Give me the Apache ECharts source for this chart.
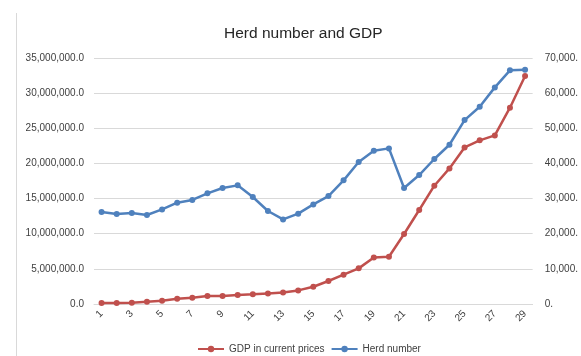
<!DOCTYPE html>
<html><head><meta charset="utf-8">
<script src="https://cdn.jsdelivr.net/npm/echarts@6/dist/echarts.min.js"></script>
<style>html,body{margin:0;padding:0;background:#fff}#c{width:581px;height:356px}</style>
</head><body><div id="c"></div>
<script>
var categories = ['1','2','3','4','5','6','7','8','9','10','11','12','13','14','15','16','17','18','19','20','21','22','23','24','25','26','27','28','29'];
var herdNumber = [13090000,12800000,12950000,12660000,13460000,14410000,14800000,15740000,16500000,16880000,15220000,13230000,12040000,12850000,14170000,15360000,17590000,20200000,21810000,22140000,16500000,18350000,20630000,22660000,26170000,28070000,30820000,33240000,33330000];
var gdp = [280,280,350,650,940,1500,1800,2280,2300,2560,2740,3020,3300,3870,4920,6540,8340,10140,13260,13460,19920,26740,33660,38580,44560,46560,47980,55860,64880];
var leftTicks = {min:0, max:35000000, interval:5000000};
var rightTicks = {min:0, max:70000, interval:10000};

function fmtLeft(v){ return v.toLocaleString('en-US',{minimumFractionDigits:1,maximumFractionDigits:1}); }
function fmtRight(v){ return v.toLocaleString('en-US') + '.'; }

var chart = echarts.init(document.getElementById('c'), null, {renderer:'canvas'});
var font = 'Liberation Sans';
chart.setOption({
  animation:false,
  backgroundColor:'#fff',
  title:{text:'Herd number and GDP', left:219, top:21, textStyle:{fontFamily:font, fontSize:15.5, fontWeight:'normal', color:'#262626'}},
  grid:{left:94, right:46, top:58, bottom:52, containLabel:false},
  legend:{top:339, left:192, itemWidth:26, itemHeight:8, itemGap:6,
    textStyle:{fontFamily:font, fontSize:10, color:'#404040'},
    data:['GDP in current prices','Herd number']},
  graphic:[{type:'line', shape:{x1:16.5,y1:13,x2:16.5,y2:356}, style:{stroke:'#d9d9d9', lineWidth:1}}],
  xAxis:{type:'category', data:categories, boundaryGap:true,
    axisLine:{lineStyle:{color:'#d9d9d9'}}, axisTick:{show:false},
    axisLabel:{interval:1, rotate:45, margin:8, fontFamily:font, fontSize:10, color:'#404040'}},
  yAxis:[
    {type:'value', min:leftTicks.min, max:leftTicks.max, interval:leftTicks.interval,
     axisLine:{show:false}, axisTick:{show:false},
     splitLine:{lineStyle:{color:'#d9d9d9'}},
     axisLabel:{formatter:fmtLeft, margin:10, fontFamily:font, fontSize:10, color:'#404040'}},
    {type:'value', min:rightTicks.min, max:rightTicks.max, interval:rightTicks.interval,
     axisLine:{show:false}, axisTick:{show:false}, splitLine:{show:false},
     axisLabel:{formatter:fmtRight, margin:12, fontFamily:font, fontSize:10, color:'#404040'}}
  ],
  series:[
    {name:'GDP in current prices', type:'line', yAxisIndex:1, data:gdp,
     symbol:'circle', symbolSize:6, lineStyle:{width:2.5, color:'#C0504D'}, itemStyle:{color:'#C0504D'}},
    {name:'Herd number', type:'line', yAxisIndex:0, data:herdNumber,
     symbol:'circle', symbolSize:6, lineStyle:{width:2.5, color:'#4F81BD'}, itemStyle:{color:'#4F81BD'}}
  ]
});
</script></body></html>
